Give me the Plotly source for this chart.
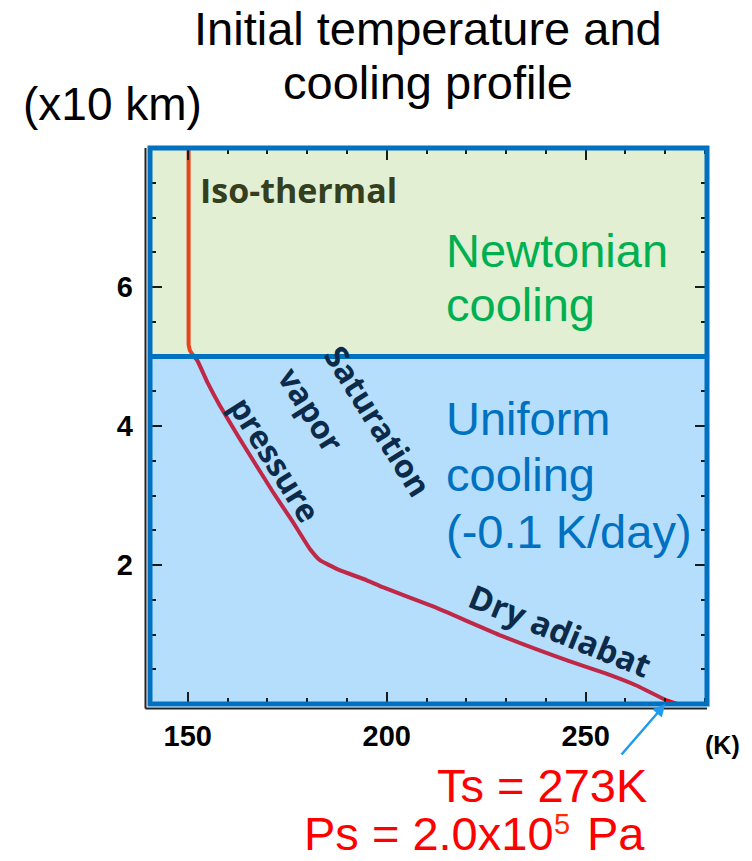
import plotly.graph_objects as go

# ---- data ----
iso_T = [150.2, 150.2, 150.5, 151.3]
iso_z = [8.0, 5.17, 5.09, 5.02]
moist_T = [151.3, 152.5, 155.0, 158.0, 163.0, 171.4, 176.4, 180.7, 183.2]
moist_z = [5.02, 4.93, 4.62, 4.30, 3.82, 3.05, 2.62, 2.23, 2.07]
dry_T = [183.2, 188.0, 195.0, 199.0, 211.8, 228.9, 245.7, 255.0, 262.6, 270.0]
dry_z = [2.07, 1.93, 1.78, 1.68, 1.40, 0.98, 0.62, 0.44, 0.27, 0.06]
surf_T = [270.0, 273.0]
surf_z = [0.06, 0.0]

x_ticks = [150, 200, 250]
y_ticks = [2, 4, 6]
x_range = [140.5, 280.5]
y_range = [0, 8]
boundary_z = 5

# ---- layout geometry ----
L, R, T, B = 150, 45, 148, 157
W, H = 752, 861
PW, PH = W - L - R, H - T - B


def px(x):
    return (x - L) / PW


def py(y):
    return (H - B - y) / PH


GREEN_BG = "#E2EFD3"
BLUE_BG = "#B4DEFC"
FRAME = "#0070C0"
ISO_C = "#E8441C"
PROF_C = "#C02848"
NAVY = "#0C2B4B"
RED = "#FF0000"

fig = go.Figure()
fig.add_trace(go.Scatter(x=iso_T, y=iso_z, mode="lines",
                         line=dict(color=ISO_C, width=4), hoverinfo="skip"))
fig.add_trace(go.Scatter(x=moist_T + dry_T[1:], y=moist_z + dry_z[1:], mode="lines",
                         line=dict(color=PROF_C, width=4, shape="spline", smoothing=0.4),
                         hoverinfo="skip"))
fig.add_trace(go.Scatter(x=surf_T, y=surf_z, mode="lines",
                         line=dict(color=RED, width=4), hoverinfo="skip", cliponaxis=False))

shapes = [
    dict(type="rect", xref="paper", yref="y", x0=0, x1=1, y0=boundary_z, y1=y_range[1],
         fillcolor=GREEN_BG, line=dict(width=0), layer="below"),
    dict(type="rect", xref="paper", yref="y", x0=0, x1=1, y0=y_range[0], y1=boundary_z,
         fillcolor=BLUE_BG, line=dict(width=0), layer="below"),
    # dark shadow lines at left and bottom
    dict(type="line", xref="paper", yref="paper", x0=-4.5 / PW, x1=-4.5 / PW, y0=-4.5 / PH, y1=1,
         line=dict(color="#222222", width=2), layer="above"),
    dict(type="line", xref="paper", yref="paper", x0=-4.5 / PW, x1=1, y0=-4.5 / PH, y1=-4.5 / PH,
         line=dict(color="#222222", width=2), layer="above"),
    dict(type="line", xref="paper", yref="y", x0=0, x1=1, y0=boundary_z, y1=boundary_z,
         line=dict(color=FRAME, width=5), layer="above"),
    dict(type="rect", xref="paper", yref="paper", x0=0, x1=1, y0=0, y1=1,
         line=dict(color=FRAME, width=5), layer="above"),
]

ann = []


def text(x, y, s, size, color, xanchor="center", family="Liberation Sans, Arial", angle=0, bold=False):
    ann.append(dict(x=px(x), y=py(y), xref="paper", yref="paper", text=s, showarrow=False,
                    xanchor=xanchor, yanchor="middle", textangle=angle, borderpad=0,
                    font=dict(size=size, color=color, family=family,
                              weight="bold" if bold else "normal")))


text(428, 28, "Initial temperature and", 47, "black")
text(428, 82, "cooling profile", 47, "black")
text(112, 104, "(x10 km)", 46, "black")
text(445, 250, "Newtonian", 47, "#00B050", xanchor="left")
text(445, 304, "cooling", 47, "#00B050", xanchor="left")
text(445, 418, "Uniform", 47, FRAME, xanchor="left")
text(445, 474, "cooling", 47, FRAME, xanchor="left")
text(445, 531, "(-0.1 K/day)", 47, FRAME, xanchor="left")
text(199, 190, "Iso-thermal", 34, "#333F1F", xanchor="left", family="Open Sans", bold=True)
text(378, 421, "Saturation", 32, NAVY, family="Open Sans", angle=58, bold=True)
text(312, 409, "vapor", 32, NAVY, family="Open Sans", angle=58, bold=True)
text(276, 459, "pressure", 32, NAVY, family="Open Sans", angle=58, bold=True)
text(560, 630, "Dry adiabat", 33, NAVY, family="Open Sans", angle=22, bold=True)
text(648, 785, "Ts = 273K", 47, RED, xanchor="right")
text(646, 833, "Pa", 47, RED, xanchor="right")
text(571, 824, "5", 29, "#FF2A00", xanchor="right")
text(555, 833, "Ps = 2.0x10", 47, RED, xanchor="right")
text(722, 745, "(K)", 25, "black", bold=True)

ann.append(dict(x=270, y=0.0, xref="x", yref="y", ax=-45, ay=52, axref="pixel", ayref="pixel",
                text="", showarrow=True, arrowhead=2, arrowsize=1, arrowwidth=2.5,
                arrowcolor="#1E9BEF", standoff=0))

tick_font = dict(family="Liberation Sans, Arial", size=29, color="black", weight="bold")

fig.update_layout(
    width=W, height=H, margin=dict(l=L, r=R, t=T, b=B),
    paper_bgcolor="white", plot_bgcolor="white", showlegend=False,
    shapes=shapes, annotations=ann,
    xaxis=dict(range=x_range, tickvals=x_ticks, ticks="inside", ticklen=12, tickwidth=2,
               tickcolor="#1a1a1a", mirror="ticks", showline=False, showgrid=False, zeroline=False,
               tickfont=tick_font, ticklabelstandoff=12,
               minor=dict(tick0=150, dtick=10, ticks="inside", ticklen=6, tickwidth=1.5,
                          tickcolor="#1a1a1a", showgrid=False)),
    yaxis=dict(range=y_range, tickvals=y_ticks, ticks="inside", ticklen=12, tickwidth=2,
               tickcolor="#1a1a1a", mirror="ticks", showline=False, showgrid=False, zeroline=False,
               tickfont=tick_font, ticklabelstandoff=16,
               minor=dict(tick0=0, dtick=0.5, ticks="inside", ticklen=6, tickwidth=1.5,
                          tickcolor="#1a1a1a", showgrid=False)),
)

fig.write_html("out.html")
